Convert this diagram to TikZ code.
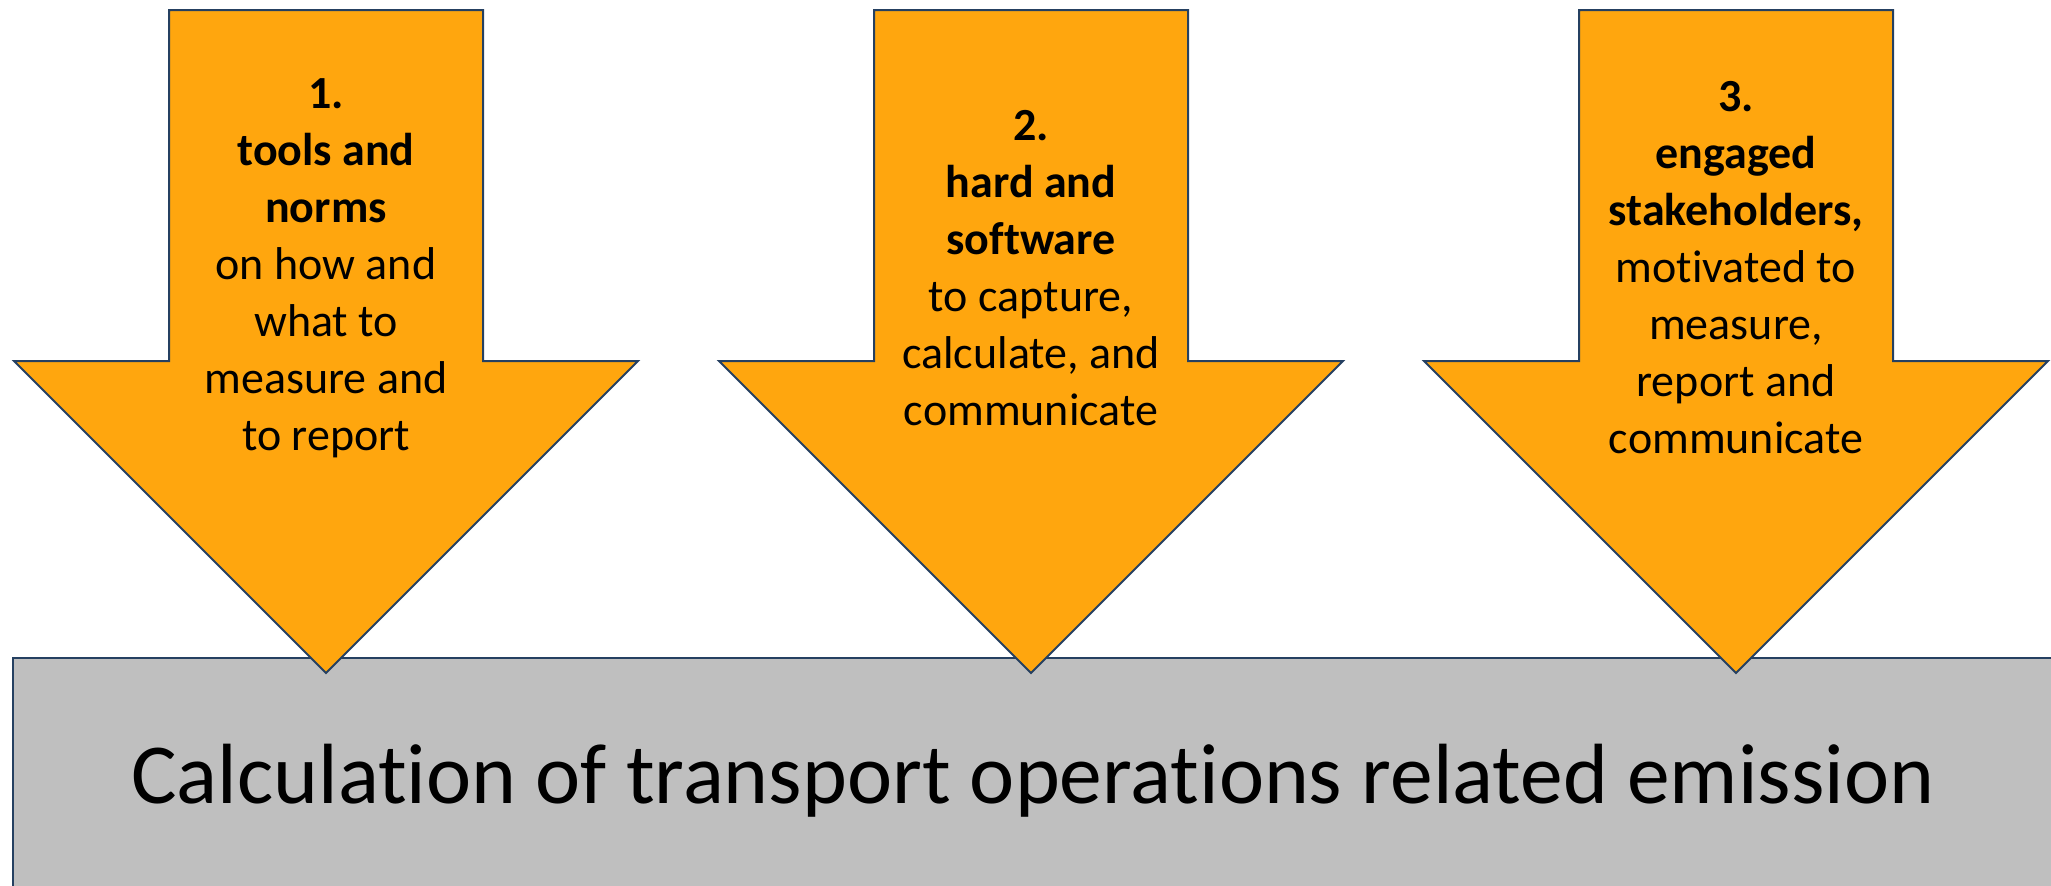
\documentclass[tikz,border=0pt]{standalone}
\usepackage{fontspec}
\setmainfont[Ligatures=NoCommon]{Carlito}
\definecolor{arrowfill}{RGB}{255,166,14}
\definecolor{edgeblue}{RGB}{37,64,97}
\definecolor{boxfill}{RGB}{191,191,191}

\begin{document}
\begin{tikzpicture}[x=1pt,y=-1pt,
  downarrow/.style={fill=arrowfill,draw=edgeblue,line width=2pt,line join=miter},
  arrowtext/.style={align=center,font=\fontsize{46}{57}\selectfont,text=black,inner sep=0pt},
  basebox/.style={fill=boxfill,draw=edgeblue,line width=2pt}]
\useasboundingbox (0,0) rectangle (2051,886);
\clip (0,0) rectangle (2051,886);

% common base: the emission calculation
\draw[basebox] (13,658) rectangle (2070,900);
\node[anchor=base,font=\fontsize{85.5}{100}\selectfont,inner sep=0pt] (base) at (1033,803)
  {Calculation of transport operations related emission};

% three block arrows pointing down onto the base
\foreach \cx in {326,1031,1736}{
  \draw[downarrow] (\cx-157,10) -- (\cx+157,10) -- (\cx+157,361) -- (\cx+312,361)
    -- (\cx,673) -- (\cx-312,361) -- (\cx-157,361) -- cycle;
}

\node[arrowtext] (tools) at (326,268)
  {\textbf{1.}\\\textbf{tools and}\\\textbf{norms}\\on how and\\what to\\measure and\\to report};
\node[arrowtext] (hardsoft) at (1031,268)
  {\textbf{2.}\\\textbf{hard and}\\\textbf{software}\\to capture,\\calculate, and\\communicate};
\node[arrowtext] (stake) at (1736,268)
  {\textbf{3.}\\\textbf{engaged}\\\textbf{stakeholders,}\\motivated to\\measure,\\report and\\communicate};
\end{tikzpicture}
\end{document}
